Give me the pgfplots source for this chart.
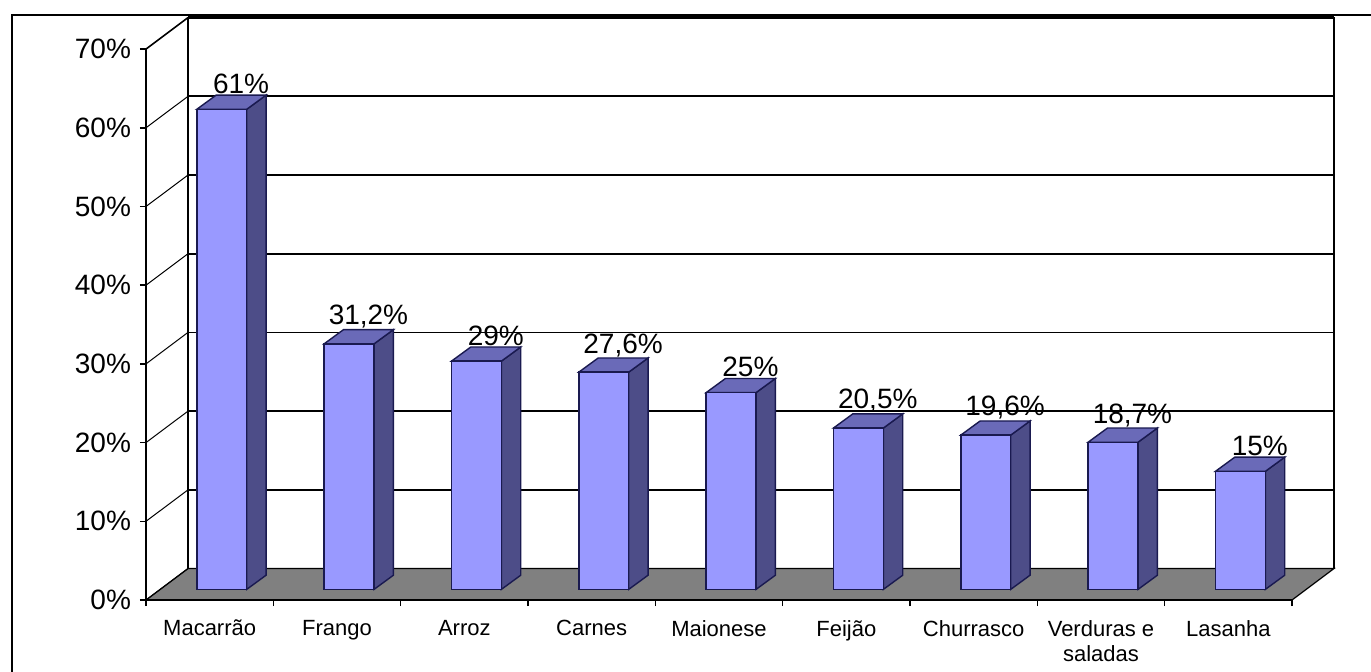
\documentclass[border=0pt]{standalone}
\usepackage{fontspec}
\setmainfont{Liberation Sans}
\usepackage{pgfplots}
\usepackage{pgfplotstable}
\pgfplotsset{compat=1.18}

\definecolor{barfront}{HTML}{9999FF}
\definecolor{barside}{HTML}{4D4D88}
\definecolor{bartop}{HTML}{6A6AB8}
\definecolor{baredge}{HTML}{1A1A50}
\definecolor{floorgray}{HTML}{808080}

% percent values per food
\pgfplotstableread{
idx val
0 61
1 31.2
2 29
3 27.6
4 25
5 20.5
6 19.6
7 18.7
8 15
}\data

\begin{document}
\begin{tikzpicture}
\path[use as bounding box] (0,0) rectangle (685.5pt,335.5pt);
% outer chart frame
\draw[black, line width=0.8pt] (6pt,-5pt) -- (6pt,328pt) -- (700pt,328pt);

\begin{axis}[
  at={(73pt,35.5pt)}, anchor=south west,
  scale only axis, width=594pt, height=291.2pt,
  xmin=-0.5, xmax=8.83, ymin=0, ymax=74,
  clip=false,
  /pgf/number format/assume math mode=true,
  axis x line*=bottom, axis y line*=left,
  axis line style={draw=none},
  tick align=outside,
  ytick={0,10,...,70},
  yticklabel={\pgfmathprintnumber{\tick}\%},
  yticklabel style={font=\fontsize{14}{14}\selectfont, xshift=-1pt},
  major tick length=3pt, minor tick length=3pt,
  xtick={0,...,8},
  xticklabels={Macarrão, Frango, Arroz, Carnes, Maionese, Feijão, Churrasco, {Verduras e\\saladas}, Lasanha},
  xticklabel style={font=\fontsize{11}{12.5}\selectfont, align=center, yshift=-3.5pt},
  major x tick style={draw=none},
  minor xtick={-0.5,0.5,...,8.5},
  tick style={black, line width=0.8pt},
]
% floor
\addplot[fill=floorgray, draw=black, line width=0.6pt] coordinates {(-0.5,0) (8.5,0) (8.83,4) (-0.17,4)} -- cycle;
% back wall
\addplot[black, line width=0.9pt] coordinates {(-0.17,4) (-0.17,74) (8.83,74) (8.83,4)};
\addplot[black, line width=1.6pt] coordinates {(-0.17,74) (8.83,74)};
% back wall gridlines
\addplot[black, line width=0.9pt] coordinates {(-0.17,14) (8.83,14)};
\addplot[black, line width=0.9pt] coordinates {(-0.17,24) (8.83,24)};
\addplot[black, line width=0.9pt] coordinates {(-0.17,34) (8.83,34)};
\addplot[black, line width=0.9pt] coordinates {(-0.17,44) (8.83,44)};
\addplot[black, line width=0.9pt] coordinates {(-0.17,54) (8.83,54)};
\addplot[black, line width=0.9pt] coordinates {(-0.17,64) (8.83,64)};
% side wall gridlines
\addplot[black, line width=0.5pt] coordinates {(-0.5,10) (-0.17,14)};
\addplot[black, line width=0.5pt] coordinates {(-0.5,20) (-0.17,24)};
\addplot[black, line width=0.5pt] coordinates {(-0.5,30) (-0.17,34)};
\addplot[black, line width=0.5pt] coordinates {(-0.5,40) (-0.17,44)};
\addplot[black, line width=0.5pt] coordinates {(-0.5,50) (-0.17,54)};
\addplot[black, line width=0.5pt] coordinates {(-0.5,60) (-0.17,64)};
\addplot[black, line width=0.8pt] coordinates {(-0.5,70) (-0.17,74)};
\addplot[black, line width=0.5pt] coordinates {(-0.5,0) (-0.17,4)};
% axis lines
\addplot[black, line width=0.9pt] coordinates {(-0.5,0) (-0.5,70)};
\addplot[black, line width=0.9pt] coordinates {(-0.5,0) (8.5,0)};

% 3d bars
\pgfplotsinvokeforeach{0,...,8}{
  \pgfplotstablegetelem{#1}{val}\of\data
  \pgfmathsetmacro\vv{\pgfplotsretval}
  \pgfmathsetmacro\xa{#1+0.095-0.196}
  \pgfmathsetmacro\xb{#1+0.095+0.196}
  \pgfmathsetmacro\xc{\xa+0.152}
  \pgfmathsetmacro\xd{\xb+0.152}
  \pgfmathsetmacro\ya{1.35}
  \pgfmathsetmacro\yb{\vv+1.35}
  \pgfmathsetmacro\yc{\ya+1.8}
  \pgfmathsetmacro\yd{\yb+1.8}
  \edef\temp{%
    \noexpand\addplot[fill=barside, draw=baredge, line width=0.7pt] coordinates {(\xb,\ya) (\xd,\yc) (\xd,\yd) (\xb,\yb)} -- cycle;
    \noexpand\addplot[fill=bartop, draw=baredge, line width=0.7pt] coordinates {(\xa,\yb) (\xb,\yb) (\xd,\yd) (\xc,\yd)} -- cycle;
    \noexpand\addplot[fill=barfront, draw=baredge, line width=0.7pt] coordinates {(\xa,\ya) (\xb,\ya) (\xb,\yb) (\xa,\yb)} -- cycle;
  }\temp
}

% value labels
\addplot[draw=none, mark=none,
  point meta=\thisrow{val},
  nodes near coords={\pgfmathprintnumber[use comma]{\pgfplotspointmeta}\%},
  every node near coord/.style={anchor=south, inner sep=0.5pt, font=\fontsize{14}{14}\selectfont, black}]
  table[x expr=\thisrow{idx}+0.247, y expr=\thisrow{val}+3.15] {\data};
\end{axis}
\end{tikzpicture}
\end{document}
